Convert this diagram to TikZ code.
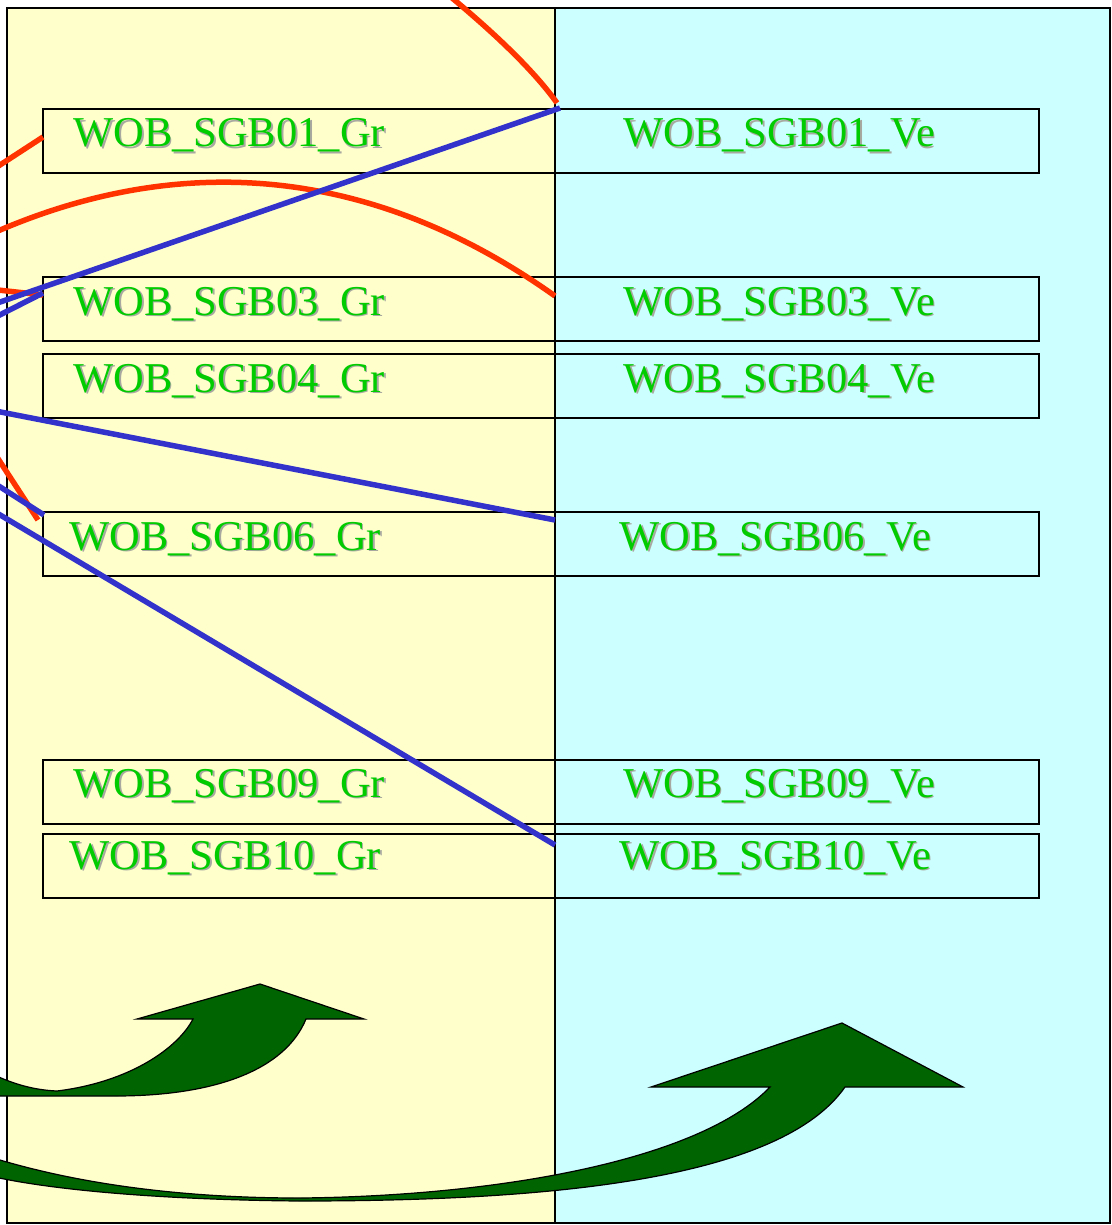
\documentclass[tikz,border=0pt]{standalone}
\usepackage{fontspec}
\setmainfont{Liberation Serif}
\usetikzlibrary{calc}
\definecolor{panelY}{HTML}{FFFFCC}
\definecolor{panelC}{HTML}{CCFFFF}
\definecolor{txtG}{HTML}{00CC00}
\definecolor{shdG}{HTML}{A8A8A0}
\definecolor{lnR}{HTML}{FF3300}
\definecolor{lnB}{HTML}{3333CC}
\definecolor{arG}{HTML}{006400}
\newcommand\wlabel[4]{%
  \node[shdwlbl] at (#1+1.8,#2+1.8) {#4};
  \node[lbl] (#3) at (#1,#2) {#4};}
\begin{document}
\begin{tikzpicture}[x=1pt,y=-1pt,
  panel/.style={draw=black,line width=1.3pt},
  grbox/.style={draw=black,line width=1.8pt,minimum width=512pt,minimum height=64pt,inner sep=0pt,outer sep=0pt,anchor=north west},
  vebox/.style={draw=black,line width=1.8pt,minimum width=484pt,minimum height=64pt,inner sep=0pt,outer sep=0pt,anchor=north west},
  lbl/.style={text=txtG,font=\fontsize{42.5}{50}\selectfont,inner sep=0pt,anchor=base west},
  shdwlbl/.style={lbl,text=shdG},
  redln/.style={draw=lnR,line width=5.5pt},
  blueln/.style={draw=lnB,line width=5.5pt},
  bigarrow/.style={draw=black,line width=1.2pt,fill=arG,line join=miter}]
\useasboundingbox (0,0) rectangle (1111,1225);
\clip (0,0) rectangle (1111,1225);
\fill[white] (0,0) rectangle (1111,1225);
% panels
\draw[panel,fill=panelY] (7,8) rectangle (555,1223);
\draw[panel,fill=panelC] (555,8) rectangle (1110,1223);
% boxes
\node[grbox] (gr01) at (43,109) {};
\node[vebox] (ve01) at (555,109) {};
\node[grbox] (gr03) at (43,277) {};
\node[vebox] (ve03) at (555,277) {};
\node[grbox] (gr04) at (43,354) {};
\node[vebox] (ve04) at (555,354) {};
\node[grbox] (gr06) at (43,512) {};
\node[vebox] (ve06) at (555,512) {};
\node[grbox] (gr09) at (43,760) {};
\node[vebox] (ve09) at (555,760) {};
\node[grbox] (gr10) at (43,834) {};
\node[vebox] (ve10) at (555,834) {};
% labels
\wlabel{73}{147}{t01g}{WOB\_SGB01\_Gr}
\wlabel{623}{147}{t01v}{WOB\_SGB01\_Ve}
\wlabel{73}{315}{t03g}{WOB\_SGB03\_Gr}
\wlabel{623}{315}{t03v}{WOB\_SGB03\_Ve}
\wlabel{73}{392}{t04g}{WOB\_SGB04\_Gr}
\wlabel{623}{392}{t04v}{WOB\_SGB04\_Ve}
\wlabel{69}{550}{t06g}{WOB\_SGB06\_Gr}
\wlabel{619}{550}{t06v}{WOB\_SGB06\_Ve}
\wlabel{73}{797}{t09g}{WOB\_SGB09\_Gr}
\wlabel{623}{797}{t09v}{WOB\_SGB09\_Ve}
\wlabel{69}{869}{t10g}{WOB\_SGB10\_Gr}
\wlabel{619}{869}{t10v}{WOB\_SGB10\_Ve}
% free ends
\coordinate (r1s) at (430,-20);
\coordinate (r2s) at (-20,178);
\coordinate (r3s) at (-20,239);
\coordinate (r4s) at (-20,288);
\coordinate (r5s) at (-20,431);
\coordinate (b1s) at (-20,309);
\coordinate (b2s) at (-20,325);
\coordinate (b3s) at (-20,408);
\coordinate (b4s) at (-20,474);
\coordinate (b5s) at (-20,503);
% red connectors
\draw[redln] (r1s) .. controls (480,20) and (530,65) .. ($(ve01.north west)+(2,-6)$);
\draw[redln] (r2s) -- ($(gr01.north west)+(0,28)$);
\draw[redln] (r3s) .. controls (150,160) and (350,150) .. ($(ve03.north west)+(0,19)$);
\draw[redln] (r4s) -- ($(gr03.north west)+(0,18)$);
\draw[redln] (r5s) -- ($(gr06.north west)+(-5,8)$);
% blue connectors
\draw[blueln] (b1s) -- ($(ve01.north west)+(5,-1)$);
\draw[blueln] (b2s) -- ($(gr03.north west)+(0,16)$);
\draw[blueln] (b3s) -- ($(ve06.north west)+(0,8)$);
\draw[blueln] (b4s) -- ($(gr06.north west)+(1,3)$);
\draw[blueln] (b5s) -- ($(ve10.north west)+(0,11)$);
% curved arrows
\draw[bigarrow] (-10,1073) .. controls (15,1085) and (35,1090) .. (57,1091)
  .. controls (130,1082) and (178,1048) .. (193,1019) -- (137,1019) -- (260,984)
  -- (364,1019) -- (306,1019) .. controls (285,1070) and (215,1096) .. (115,1096)
  -- (-10,1096) -- cycle;
\draw[bigarrow] (-10,1157) .. controls (90,1188) and (200,1198) .. (300,1198)
  .. controls (500,1196) and (700,1160) .. (770,1087) -- (651,1087) -- (842,1023)
  -- (963,1087) -- (845,1087) .. controls (780,1180) and (550,1201) .. (300,1201)
  .. controls (180,1200) and (60,1192) .. (-10,1176) -- cycle;
\end{tikzpicture}
\end{document}
